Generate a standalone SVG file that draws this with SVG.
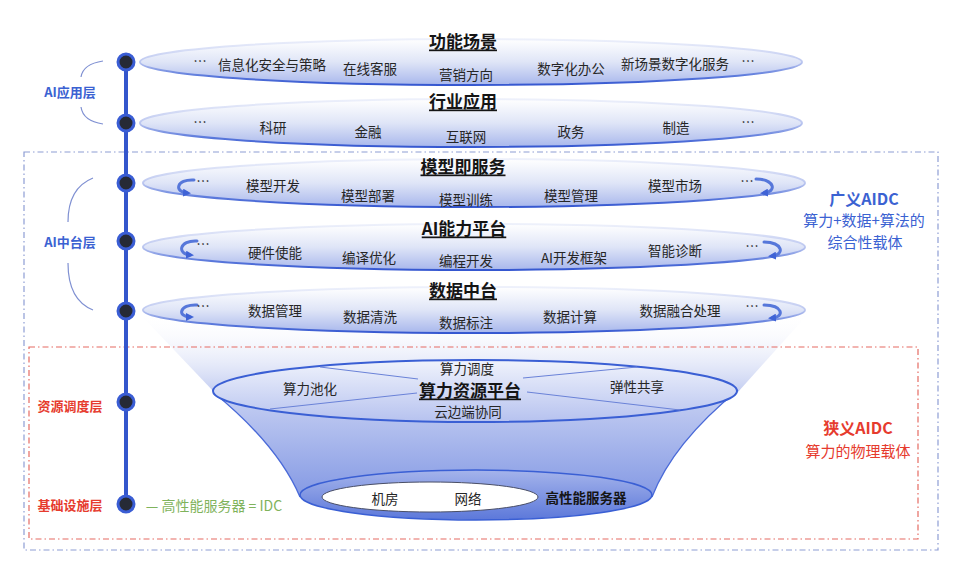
<svg xmlns="http://www.w3.org/2000/svg" width="966" height="570" viewBox="0 0 966 570">
<style>
text{font-family:"Noto Sans CJK SC","Noto Sans",sans-serif;dominant-baseline:central;text-anchor:middle}
.t{font-size:13.5px;fill:#262626}
.h{font-size:17px;font-weight:bold;fill:#151515;text-decoration:underline}
.lb{font-size:13px;font-weight:bold;fill:#3b62d2}
.lr{font-size:13px;font-weight:bold;fill:#e63b2e}
.disc{fill:url(#discFill);stroke:url(#discStroke);stroke-width:2}
.curl{fill:none;stroke:#5677da;stroke-width:3;stroke-linecap:round}
.dot{fill:#262a36;stroke:#3a5dd4;stroke-width:3}
.brace{fill:none;stroke:#7f90d2;stroke-width:1.2}
</style>
<defs>
<linearGradient id="discFill" x1="0" y1="0" x2="0" y2="1">
<stop offset="0" stop-color="#ffffff" stop-opacity="0.95"/>
<stop offset="0.5" stop-color="#dfe5f7"/>
<stop offset="1" stop-color="#a8b7ec"/>
</linearGradient>
<linearGradient id="discStroke" x1="0" y1="0" x2="0" y2="1">
<stop offset="0" stop-color="#eef1fb"/>
<stop offset="0.5" stop-color="#bcc7f0"/>
<stop offset="0.8" stop-color="#5c7adc"/>
<stop offset="1" stop-color="#3557d0"/>
</linearGradient>
<linearGradient id="funnelTop" x1="0" y1="0" x2="0" y2="1">
<stop offset="0" stop-color="#ffffff" stop-opacity="0"/>
<stop offset="1" stop-color="#c3cdf1"/>
</linearGradient>
<linearGradient id="funnelLow" x1="0" y1="0" x2="0" y2="1">
<stop offset="0" stop-color="#c9d2f3"/>
<stop offset="1" stop-color="#8499e4"/>
</linearGradient>
<linearGradient id="platFill" x1="0" y1="0" x2="0" y2="1">
<stop offset="0" stop-color="#f0f3fc"/>
<stop offset="1" stop-color="#b6c2ef"/>
</linearGradient>
<linearGradient id="ringFill" x1="0" y1="0" x2="0" y2="1">
<stop offset="0" stop-color="#a5b4eb"/>
<stop offset="1" stop-color="#5c78da"/>
</linearGradient>
<marker id="ah" viewBox="0 0 10 10" refX="5" refY="5" markerUnits="userSpaceOnUse" markerWidth="8" markerHeight="8" orient="auto">
<path d="M0,0 L10,5 L0,10 z" fill="#3f63d6"/>
</marker>
</defs>

<rect width="966" height="570" fill="#ffffff"/>

<!-- funnel -->
<g id="funnel">
<polygon points="138,312 214,392 738,392 810,312" fill="url(#funnelTop)"/>
<path d="M213,392 Q278,445 300,497 L652,497 Q673,443 738,390 Z" fill="url(#funnelLow)" stroke="none"/>
<path d="M213,392 Q278,445 300,497" fill="none" stroke="#4a6ad8" stroke-width="1.3"/>
<path d="M738,390 Q673,443 652,497" fill="none" stroke="#4a6ad8" stroke-width="1.3"/>
</g>

<!-- dashed boxes -->
<rect x="24" y="152" width="914" height="398" fill="none" stroke="#8e9dd4" stroke-width="1.2" stroke-dasharray="6 3 1.5 3"/>
<rect x="29" y="347" width="889" height="192" fill="none" stroke="#e56b63" stroke-width="1.2" stroke-dasharray="6 3 1.5 3"/>

<!-- connectors: timeline -->
<g id="connectors">
<line x1="126" y1="62" x2="126" y2="504" stroke="#3456cc" stroke-width="4"/>
<path class="brace" d="M103,61 Q83,64 81,77"/>
<path class="brace" d="M81,107 Q83,121 103,124"/>
<path class="brace" d="M93,178 Q68,188 68,222"/>
<path class="brace" d="M68,263 Q68,300 93,310"/>
</g>

<g id="dots">
<circle class="dot" cx="126" cy="62" r="8"/>
<circle class="dot" cx="126" cy="123" r="8"/>
<circle class="dot" cx="126" cy="183" r="8"/>
<circle class="dot" cx="126" cy="241" r="8"/>
<circle class="dot" cx="126" cy="311" r="8"/>
<circle class="dot" cx="126" cy="402" r="8"/>
<circle class="dot" cx="126" cy="504" r="8"/>
</g>

<g id="layer-labels">
<text class="lb" x="70" y="91">AI应用层</text>
<text class="lb" x="70" y="241">AI中台层</text>
<text class="lr" x="70" y="405">资源调度层</text>
<text class="lr" x="70" y="504">基础设施层</text>
<text x="214" y="505" style="font-size:14px;fill:#7fb35c">— 高性能服务器 = IDC</text>
</g>

<g id="disc-gongneng">
<ellipse class="disc" cx="471" cy="62" rx="331" ry="23"/>
<text class="h" x="463" y="40">功能场景</text>
<text class="t" x="200" y="60">…</text>
<text class="t" x="272" y="64">信息化安全与策略</text>
<text class="t" x="370" y="68">在线客服</text>
<text class="t" x="466" y="74">营销方向</text>
<text class="t" x="571" y="68">数字化办公</text>
<text class="t" x="675" y="63">新场景数字化服务</text>
<text class="t" x="748" y="60">…</text>
</g>

<g id="disc-hangye">
<ellipse class="disc" cx="471" cy="123" rx="331" ry="24"/>
<text class="h" x="463" y="100">行业应用</text>
<text class="t" x="200" y="121">…</text>
<text class="t" x="273" y="127">科研</text>
<text class="t" x="368" y="131">金融</text>
<text class="t" x="466" y="136">互联网</text>
<text class="t" x="571" y="131">政务</text>
<text class="t" x="676" y="127">制造</text>
<text class="t" x="748" y="121">…</text>
</g>

<g id="disc-moxing">
<ellipse class="disc" cx="474" cy="183" rx="331" ry="24"/>
<text class="h" x="463" y="165">模型即服务</text>
<path class="curl" d="M194,180 C176,179 174,192 187,193" marker-end="url(#ah)"/>
<path class="curl" d="M756,179 C775,179 777,192 764,193" marker-end="url(#ah)"/>
<text class="t" x="203" y="180">…</text>
<text class="t" x="273" y="185">模型开发</text>
<text class="t" x="368" y="195">模型部署</text>
<text class="t" x="466" y="199">模型训练</text>
<text class="t" x="571" y="195">模型管理</text>
<text class="t" x="675" y="185">模型市场</text>
<text class="t" x="747" y="180">…</text>
</g>

<g id="disc-ai">
<ellipse class="disc" cx="474" cy="247" rx="331" ry="23"/>
<text class="h" x="464" y="227">AI能力平台</text>
<path class="curl" d="M197,241 C179,240 177,254 190,255" marker-end="url(#ah)"/>
<path class="curl" d="M764,242 C783,242 785,255 772,256" marker-end="url(#ah)"/>
<text class="t" x="203" y="243">…</text>
<text class="t" x="275" y="252">硬件使能</text>
<text class="t" x="369" y="257">编译优化</text>
<text class="t" x="466" y="260">编程开发</text>
<text class="t" x="574" y="257">AI开发框架</text>
<text class="t" x="675" y="250">智能诊断</text>
<text class="t" x="752" y="245">…</text>
</g>

<g id="disc-shuju">
<ellipse class="disc" cx="474" cy="310" rx="331" ry="23"/>
<text class="h" x="463" y="289">数据中台</text>
<path class="curl" d="M197,305 C179,304 177,317 190,317" marker-end="url(#ah)"/>
<path class="curl" d="M764,305 C783,305 785,317 772,318" marker-end="url(#ah)"/>
<text class="t" x="203" y="305">…</text>
<text class="t" x="275" y="310">数据管理</text>
<text class="t" x="370" y="316">数据清洗</text>
<text class="t" x="466" y="322">数据标注</text>
<text class="t" x="570" y="316">数据计算</text>
<text class="t" x="680" y="310">数据融合处理</text>
<text class="t" x="752" y="305">…</text>
</g>

<g id="platform">
<ellipse cx="475" cy="391" rx="262" ry="31" fill="url(#platFill)" stroke="#3a5fd4" stroke-width="2"/>
<g stroke="#6a82d8" stroke-width="1">
<line x1="320" y1="367" x2="418" y2="379"/>
<line x1="270" y1="409" x2="417" y2="393"/>
<line x1="523" y1="378" x2="637" y2="367"/>
<line x1="527" y1="392" x2="680" y2="410"/>
</g>
<text class="t" x="467" y="368">算力调度</text>
<text class="h" x="470" y="389">算力资源平台</text>
<text class="t" x="468" y="411">云边端协同</text>
<text class="t" x="310" y="388">算力池化</text>
<text class="t" x="637" y="386">弹性共享</text>
</g>

<g id="infrastructure">
<ellipse cx="476" cy="495" rx="176" ry="25" fill="url(#ringFill)" stroke="#3a5fd4" stroke-width="1.5"/>
<ellipse cx="430" cy="497" rx="108" ry="15" fill="#ffffff" stroke="#4a4f66" stroke-width="1"/>
<text class="t" x="385" y="498">机房</text>
<text class="t" x="468" y="498">网络</text>
<text class="t" x="586" y="497" style="font-weight:bold;fill:#151515">高性能服务器</text>
</g>

<g id="aidc-broad">
<text x="864" y="198" style="font-size:16px;font-weight:bold;fill:#3b62d2">广义AIDC</text>
<text x="864" y="219" style="font-size:15px;fill:#3b62d2">算力+数据+算法的</text>
<text x="865" y="241" style="font-size:15px;fill:#3b62d2">综合性载体</text>
</g>

<g id="aidc-narrow">
<text x="858" y="427" style="font-size:16px;font-weight:bold;fill:#e63b2e">狭义AIDC</text>
<text x="858" y="450" style="font-size:15px;fill:#e63b2e">算力的物理载体</text>
</g>
</svg>
